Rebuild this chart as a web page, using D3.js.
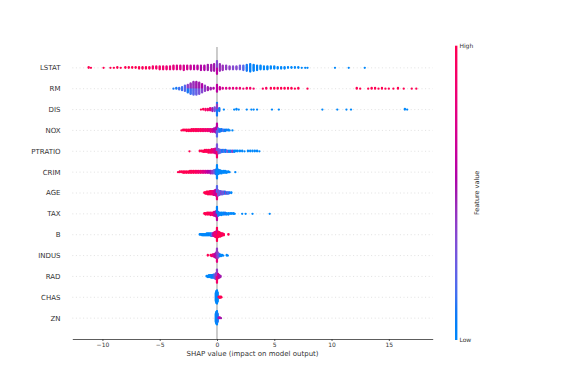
<!DOCTYPE html>
<html>
<head>
<meta charset="utf-8">
<script src="https://cdn.jsdelivr.net/npm/d3@7"></script>
<style>
  body { margin: 0; background: #fff; }
  text { font-family: "DejaVu Sans", sans-serif; }
</style>
</head>
<body>
<div id="chart"></div>
<script>
// features, top to bottom
var features = ["LSTAT", "RM", "DIS", "NOX", "PTRATIO", "CRIM", "AGE", "TAX", "B", "INDUS", "RAD", "CHAS", "ZN"];

// each entry: [shap value, feature value (0 low .. 1 high), number of samples]
var lstat = [[-11.2,1,2],[-11.0,1,1],[-9.9,1,1],[-9.3,1,1],[-9.0,1,1],[-8.7,1,2],[-8.4,1,1],[-8.0,1,2],[-7.7,1,2],
  [-7.4,1,2],[-7.1,1,2],[-6.8,1,3],[-6.5,0.95,3],[-6.2,1,3],[-5.9,0.95,3],[-5.6,0.9,4],[-5.3,0.9,4],[-5.0,0.9,5],
  [-4.7,0.85,5],[-4.4,0.85,5],[-4.1,0.8,5],[-3.8,0.8,6],[-3.5,0.75,6],[-3.2,0.75,6],[-2.9,0.7,7],[-2.6,0.7,6],
  [-2.3,0.65,6],[-2.0,0.6,6],[-1.7,0.6,6],[-1.4,0.55,7],[-1.1,0.55,7],[-0.8,0.5,8],[-0.5,0.5,9],[-0.25,0.5,10],
  [0,0.6,9],[0,0.35,9],[0.25,0.45,10],[0.5,0.45,7],[0.8,0.4,6],[1.1,0.4,5],[1.4,0.35,5],[1.7,0.35,5],[2.0,0.3,6],
  [2.3,0.2,7],[2.6,0.1,9],[2.9,0.05,11],[3.2,0.05,9],[3.5,0.05,7],[3.8,0,6],[4.1,0,5],[4.4,0,5],[4.7,0,4],
  [5.0,0,4],[5.3,0,3],[5.6,0,3],[5.9,0,3],[6.2,0,2],[6.5,0,2],[6.8,0,2],[7.1,0,2],[7.4,0,1],[7.7,0,1],[7.9,0,1],
  [10.3,0,1],[11.5,0,1],[12.9,0,1]];
var rm = [[-3.8,0.1,1],[-3.55,0.1,2],[-3.3,0.15,3],[-3.05,0.15,5],[-2.8,0.2,8],[-2.55,0.1,6],[-2.55,0.4,5],
  [-2.3,0.15,8],[-2.3,0.45,7],[-2.05,0.2,9],[-2.05,0.45,9],[-1.8,0.25,9],[-1.8,0.5,9],[-1.55,0.3,8],[-1.55,0.5,8],
  [-1.3,0.35,6],[-1.3,0.55,6],[-1.05,0.4,8],[-0.8,0.5,5],[-0.55,0.5,3],[-0.3,0.55,2],[0,0.6,10],[0.25,0.65,4],
  [0.5,0.7,2],[0.8,0.75,2],[1.1,0.75,2],[1.4,0.8,2],[1.7,0.8,2],[2.0,0.85,2],[2.3,0.85,1],[2.6,0.9,2],[2.9,0.9,2],
  [3.2,0.9,1],[4.0,0.95,1],[4.3,0.95,2],[4.7,1,2],[5.0,1,2],[5.3,1,2],[5.6,1,2],[5.9,1,2],[6.2,1,2],[6.5,1,2],
  [6.8,1,1],[7.1,1,2],[7.9,1,1],[12.2,1,2],[12.5,1,1],[13.2,1,1],[13.5,1,2],[13.8,1,2],[14.1,1,1],[14.4,1,2],
  [14.7,1,1],[15.0,1,1],[15.4,1,1],[15.8,1,2],[16.3,1,1],[17.0,1,1],[17.4,1,1]];
var dis = [[-1.4,1,1],[-1.2,1,2],[-1.0,0.9,3],[-0.8,0.9,3],[-0.6,0.8,4],[-0.4,0.5,5],[-0.2,0.3,6],[0,0.1,10],
  [0,0.4,8],[0.2,0.1,5],[0.6,0,1],[1.5,0,1],[1.7,0,2],[1.9,0,1],[2.6,0,1],[3.0,0,1],[3.2,0,1],[3.5,0,1],[4.8,0,1],
  [5.4,0,1],[9.2,0,1],[10.5,0,1],[11.3,0,1],[11.7,0,1],[16.4,0,2],[16.6,0,1]];
var nox = [[-3.1,1,1],[-2.95,1,2],[-2.8,1,2],[-2.65,1,3],[-2.5,1,3],[-2.35,1,3],[-2.2,0.95,4],[-2.05,1,4],
  [-1.9,0.95,4],[-1.75,1,4],[-1.6,0.9,4],[-1.45,0.95,4],[-1.3,0.9,4],[-1.15,0.9,4],[-1.0,0.85,4],[-0.85,0.9,4],
  [-0.7,0.8,4],[-0.55,0.8,5],[-0.4,0.7,5],[-0.25,0.6,6],[-0.1,0.5,8],[0,0.2,10],[0,0.6,10],[0.1,0.2,6],
  [0.25,0.1,5],[0.4,0.1,4],[0.55,0.15,3],[0.7,0.05,3],[0.85,0.1,2],[1.0,0,2],[1.1,0,1],[1.35,0,1]];
var ptratio = [[-2.4,1,1],[-1.5,1,2],[-1.35,1,2],[-1.2,1,3],[-1.05,1,4],[-0.9,0.95,4],[-0.75,1,5],[-0.6,0.9,5],
  [-0.45,0.9,6],[-0.3,0.8,6],[-0.15,0.7,8],[0,0.9,10],[0,0.3,10],[0.15,0.3,7],[0.3,0.2,5],[0.45,0.1,4],
  [0.6,0.2,4],[0.75,0,4],[0.9,0.3,3],[1.05,0,3],[1.2,0.1,3],[1.35,0.4,3],[1.5,0,3],[1.65,0,2],[1.8,0,2],
  [2.0,0,2],[2.2,0,2],[2.4,0,1],[2.7,0,2],[2.9,0,2],[3.1,0,2],[3.3,0,2],[3.5,0,2],[3.7,0,1]];
var crim = [[-3.4,1,1],[-3.25,1,2],[-3.1,1,2],[-2.95,1,3],[-2.8,1,3],[-2.65,1,3],[-2.5,1,3],[-2.35,1,4],
  [-2.2,0.95,4],[-2.05,1,4],[-1.9,0.95,4],[-1.75,0.9,4],[-1.6,0.9,4],[-1.45,0.85,4],[-1.3,0.8,4],[-1.15,0.75,4],
  [-1.0,0.7,4],[-0.85,0.6,4],[-0.7,0.55,4],[-0.55,0.5,5],[-0.4,0.4,5],[-0.25,0.3,6],[-0.1,0.1,8],[0,0,22],
  [0.1,0,8],[0.25,0,6],[0.4,0,5],[0.55,0,4],[0.7,0,4],[0.85,0,3],[1.0,0,2],[1.1,0,1],[1.6,0,1]];
var age = [[-1.1,1,2],[-1.0,1,3],[-0.9,1,4],[-0.8,1,5],[-0.7,1,5],[-0.6,0.95,6],[-0.5,0.9,6],[-0.4,0.85,6],
  [-0.3,0.8,7],[-0.2,0.7,8],[-0.1,0.6,10],[0,0.8,11],[0,0.2,11],[0.1,0.3,9],[0.2,0.3,7],[0.3,0.2,6],[0.4,0.4,5],
  [0.5,0.2,5],[0.6,0.35,4],[0.7,0.1,4],[0.8,0.4,3],[0.9,0.1,3],[1.0,0.2,3],[1.1,0.1,2],[1.25,0,2]];
var tax = [[-1.1,1,2],[-1.0,1,3],[-0.85,1,4],[-0.7,1,4],[-0.55,0.9,5],[-0.4,0.9,5],[-0.25,0.7,7],[-0.1,0.5,9],
  [0,0.6,11],[0,0.05,11],[0.1,0.1,7],[0.25,0,5],[0.4,0,5],[0.55,0,4],[0.7,0.1,4],[0.85,0,3],[1.0,0,3],[1.15,0,2],
  [1.3,0,2],[1.45,0,2],[1.55,0,1],[2.2,0,1],[2.5,0,1],[3.1,0,1],[4.6,0,1]];
var b = [[-1.5,0,2],[-1.4,0,2],[-1.3,0,3],[-1.2,0,3],[-1.1,0,3],[-1.0,0,3],[-0.9,0,4],[-0.8,0,4],[-0.7,0.05,4],
  [-0.6,0,4],[-0.5,0.1,5],[-0.4,0.3,5],[-0.3,0.6,6],[-0.2,0.8,8],[-0.1,0.9,10],[0,1,14],[0,0.7,8],[0.1,1,10],
  [0.2,0.95,8],[0.3,1,7],[0.4,1,5],[0.5,0.9,4],[0.6,1,3],[1.0,1,2]];
var indus = [[-0.8,1,2],[-0.55,1,2],[-0.45,0.9,3],[-0.35,0.8,4],[-0.25,0.7,5],[-0.15,0.6,7],[-0.05,0.5,10],
  [0,0.8,11],[0,0.4,11],[0.05,0.4,10],[0.15,0.3,6],[0.25,0.1,4],[0.35,0,3],[0.45,0,2],[0.55,0,1],[0.85,0,2],[0.95,0,1]];
var rad = [[-0.9,0,2],[-0.8,0,3],[-0.7,0,4],[-0.6,0,4],[-0.5,0,5],[-0.4,0.05,5],[-0.3,0.1,6],[-0.2,0.2,7],
  [-0.1,0.4,10],[0,0.9,11],[0,0.4,11],[0.1,0.7,8],[0.2,0.6,5],[0.3,0.5,3]];
var chas = [[-0.1,0,14],[-0.05,0,20],[0,0,22],[0.05,0,16],[0.15,1,2],[0.25,1,3],[0.35,1,2],[0.4,1,1]];
var zn = [[-0.1,0,14],[-0.05,0,20],[0,0,22],[0.05,0.1,14],[0.15,0.5,2],[0.25,0.6,2],[0.35,0.5,1]];

var shapData = [lstat, rm, dis, nox, ptratio, crim, age, tax, b, indus, rad, chas, zn];
var xTicks = [-10, -5, 0, 5, 10, 15];
var xLabel = "SHAP value (impact on model output)";
var cbLabel = "Feature value";

var width = 581, height = 388;
var plot = {left: 72.3, right: 432.7, top: 47, bottom: 339};
var axisColor = "#333333";

var svg = d3.select("#chart").append("svg")
  .attr("width", width)
  .attr("height", height);

// shap red_blue colormap: lch from blue to red, lightness dips in the middle
function redBlue(t) {
  var h = 267 + t * (380.3 - 267);
  var c = 70 + t * 20;
  var l = 54 - 14 * (1 - Math.abs(2 * t - 1));
  return d3.hcl(h, c, l).formatRgb();
}

// x range with matplotlib style 5% margins
var allVals = shapData.flat().map(function(d) { return d[0]; });
var ext = d3.extent(allVals);
var pad = (ext[1] - ext[0]) * 0.05;
var x = d3.scaleLinear()
  .domain([ext[0] - pad, ext[1] + pad])
  .range([plot.left, plot.right]);

var y = d3.scalePoint()
  .domain(features)
  .range([plot.top, plot.bottom])
  .padding(1);
var rowStep = y.step();

// dotted row guides
svg.append("g").selectAll("line")
  .data(features)
  .enter().append("line")
  .attr("x1", plot.left)
  .attr("x2", plot.right)
  .attr("y1", function(d) { return y(d); })
  .attr("y2", function(d) { return y(d); })
  .style("stroke", "#cccccc")
  .style("stroke-width", 0.6)
  .style("stroke-dasharray", "1,2.6");

// zero line
svg.append("line")
  .attr("x1", x(0)).attr("x2", x(0))
  .attr("y1", plot.top).attr("y2", plot.bottom)
  .style("stroke", "#999999")
  .style("stroke-width", 1);

// beeswarm layout like shap: stack samples sharing a bin, alternate up and down
function swarm(entries) {
  var groups = d3.groups(entries, function(d) { return d[0]; });
  var maxN = d3.max(groups, function(g) { return d3.sum(g[1], function(e) { return e[2]; }); });
  var maxLayer = Math.ceil((maxN - 1) / 2);
  var pts = [];
  groups.forEach(function(g) {
    var queue = g[1].map(function(e) { return {fv: e[1], left: e[2]}; });
    var layer = 0, more = true;
    while (more) {
      more = false;
      queue.forEach(function(q) {
        if (q.left > 0) {
          q.left--;
          more = true;
          pts.push({s: g[0], fv: q.fv, k: Math.ceil(layer / 2) * (layer % 2 ? 1 : -1)});
          layer++;
        }
      });
    }
  });
  var scale = 0.9 * 0.4 * rowStep / (maxLayer + 1);
  pts.forEach(function(p) { p.dy = -p.k * scale; });
  return pts;
}

features.forEach(function(f, i) {
  var pts = swarm(shapData[i]);
  svg.append("g").selectAll("circle")
    .data(pts)
    .enter().append("circle")
    .attr("cx", function(d) { return x(d.s); })
    .attr("cy", function(d) { return y(f) + d.dy; })
    .attr("r", 1.15)
    .style("fill", function(d) { return redBlue(d.fv); });
});

// feature names
svg.append("g").selectAll("text")
  .data(features)
  .enter().append("text")
  .attr("x", plot.left - 11.8)
  .attr("y", function(d) { return y(d); })
  .attr("dy", "0.35em")
  .attr("text-anchor", "end")
  .attr("font-size", 7)
  .style("fill", axisColor)
  .text(function(d) { return d; });

// x axis
var xAxis = svg.append("g")
  .attr("transform", "translate(0," + plot.bottom + ")")
  .call(d3.axisBottom(x).tickValues(xTicks).tickSize(2).tickSizeOuter(0).tickPadding(2));
xAxis.select(".domain").style("stroke", axisColor).style("stroke-width", 0.8);
xAxis.selectAll(".tick line").style("stroke", axisColor).style("stroke-width", 0.8);
xAxis.selectAll(".tick text")
  .attr("font-size", 6)
  .attr("font-family", "DejaVu Sans")
  .style("fill", axisColor);

svg.append("text")
  .attr("x", (plot.left + plot.right) / 2)
  .attr("y", 356)
  .attr("text-anchor", "middle")
  .attr("font-size", 7)
  .style("fill", axisColor)
  .text(xLabel);

// colour bar
var cb = {x: 455, w: 2.4, top: 45.7, bottom: 340};
var grad = svg.append("defs").append("linearGradient")
  .attr("id", "cbGrad")
  .attr("x1", 0).attr("y1", 1).attr("x2", 0).attr("y2", 0);
d3.range(0, 1.0001, 0.05).forEach(function(t) {
  grad.append("stop")
    .attr("offset", t)
    .attr("stop-color", redBlue(t));
});
svg.append("rect")
  .attr("x", cb.x)
  .attr("y", cb.top)
  .attr("width", cb.w)
  .attr("height", cb.bottom - cb.top)
  .style("fill", "url(#cbGrad)");

svg.append("text")
  .attr("x", cb.x + cb.w + 2)
  .attr("y", cb.top)
  .attr("dy", "0.35em")
  .attr("font-size", 6)
  .style("fill", axisColor)
  .text("High");
svg.append("text")
  .attr("x", cb.x + cb.w + 2)
  .attr("y", cb.bottom)
  .attr("dy", "0.35em")
  .attr("font-size", 6)
  .style("fill", axisColor)
  .text("Low");
svg.append("text")
  .attr("transform", "translate(476.5," + ((cb.top + cb.bottom) / 2) + ") rotate(-90)")
  .attr("text-anchor", "middle")
  .attr("dy", "0.35em")
  .attr("font-size", 6.5)
  .style("fill", axisColor)
  .text(cbLabel);
</script>
</body>
</html>
